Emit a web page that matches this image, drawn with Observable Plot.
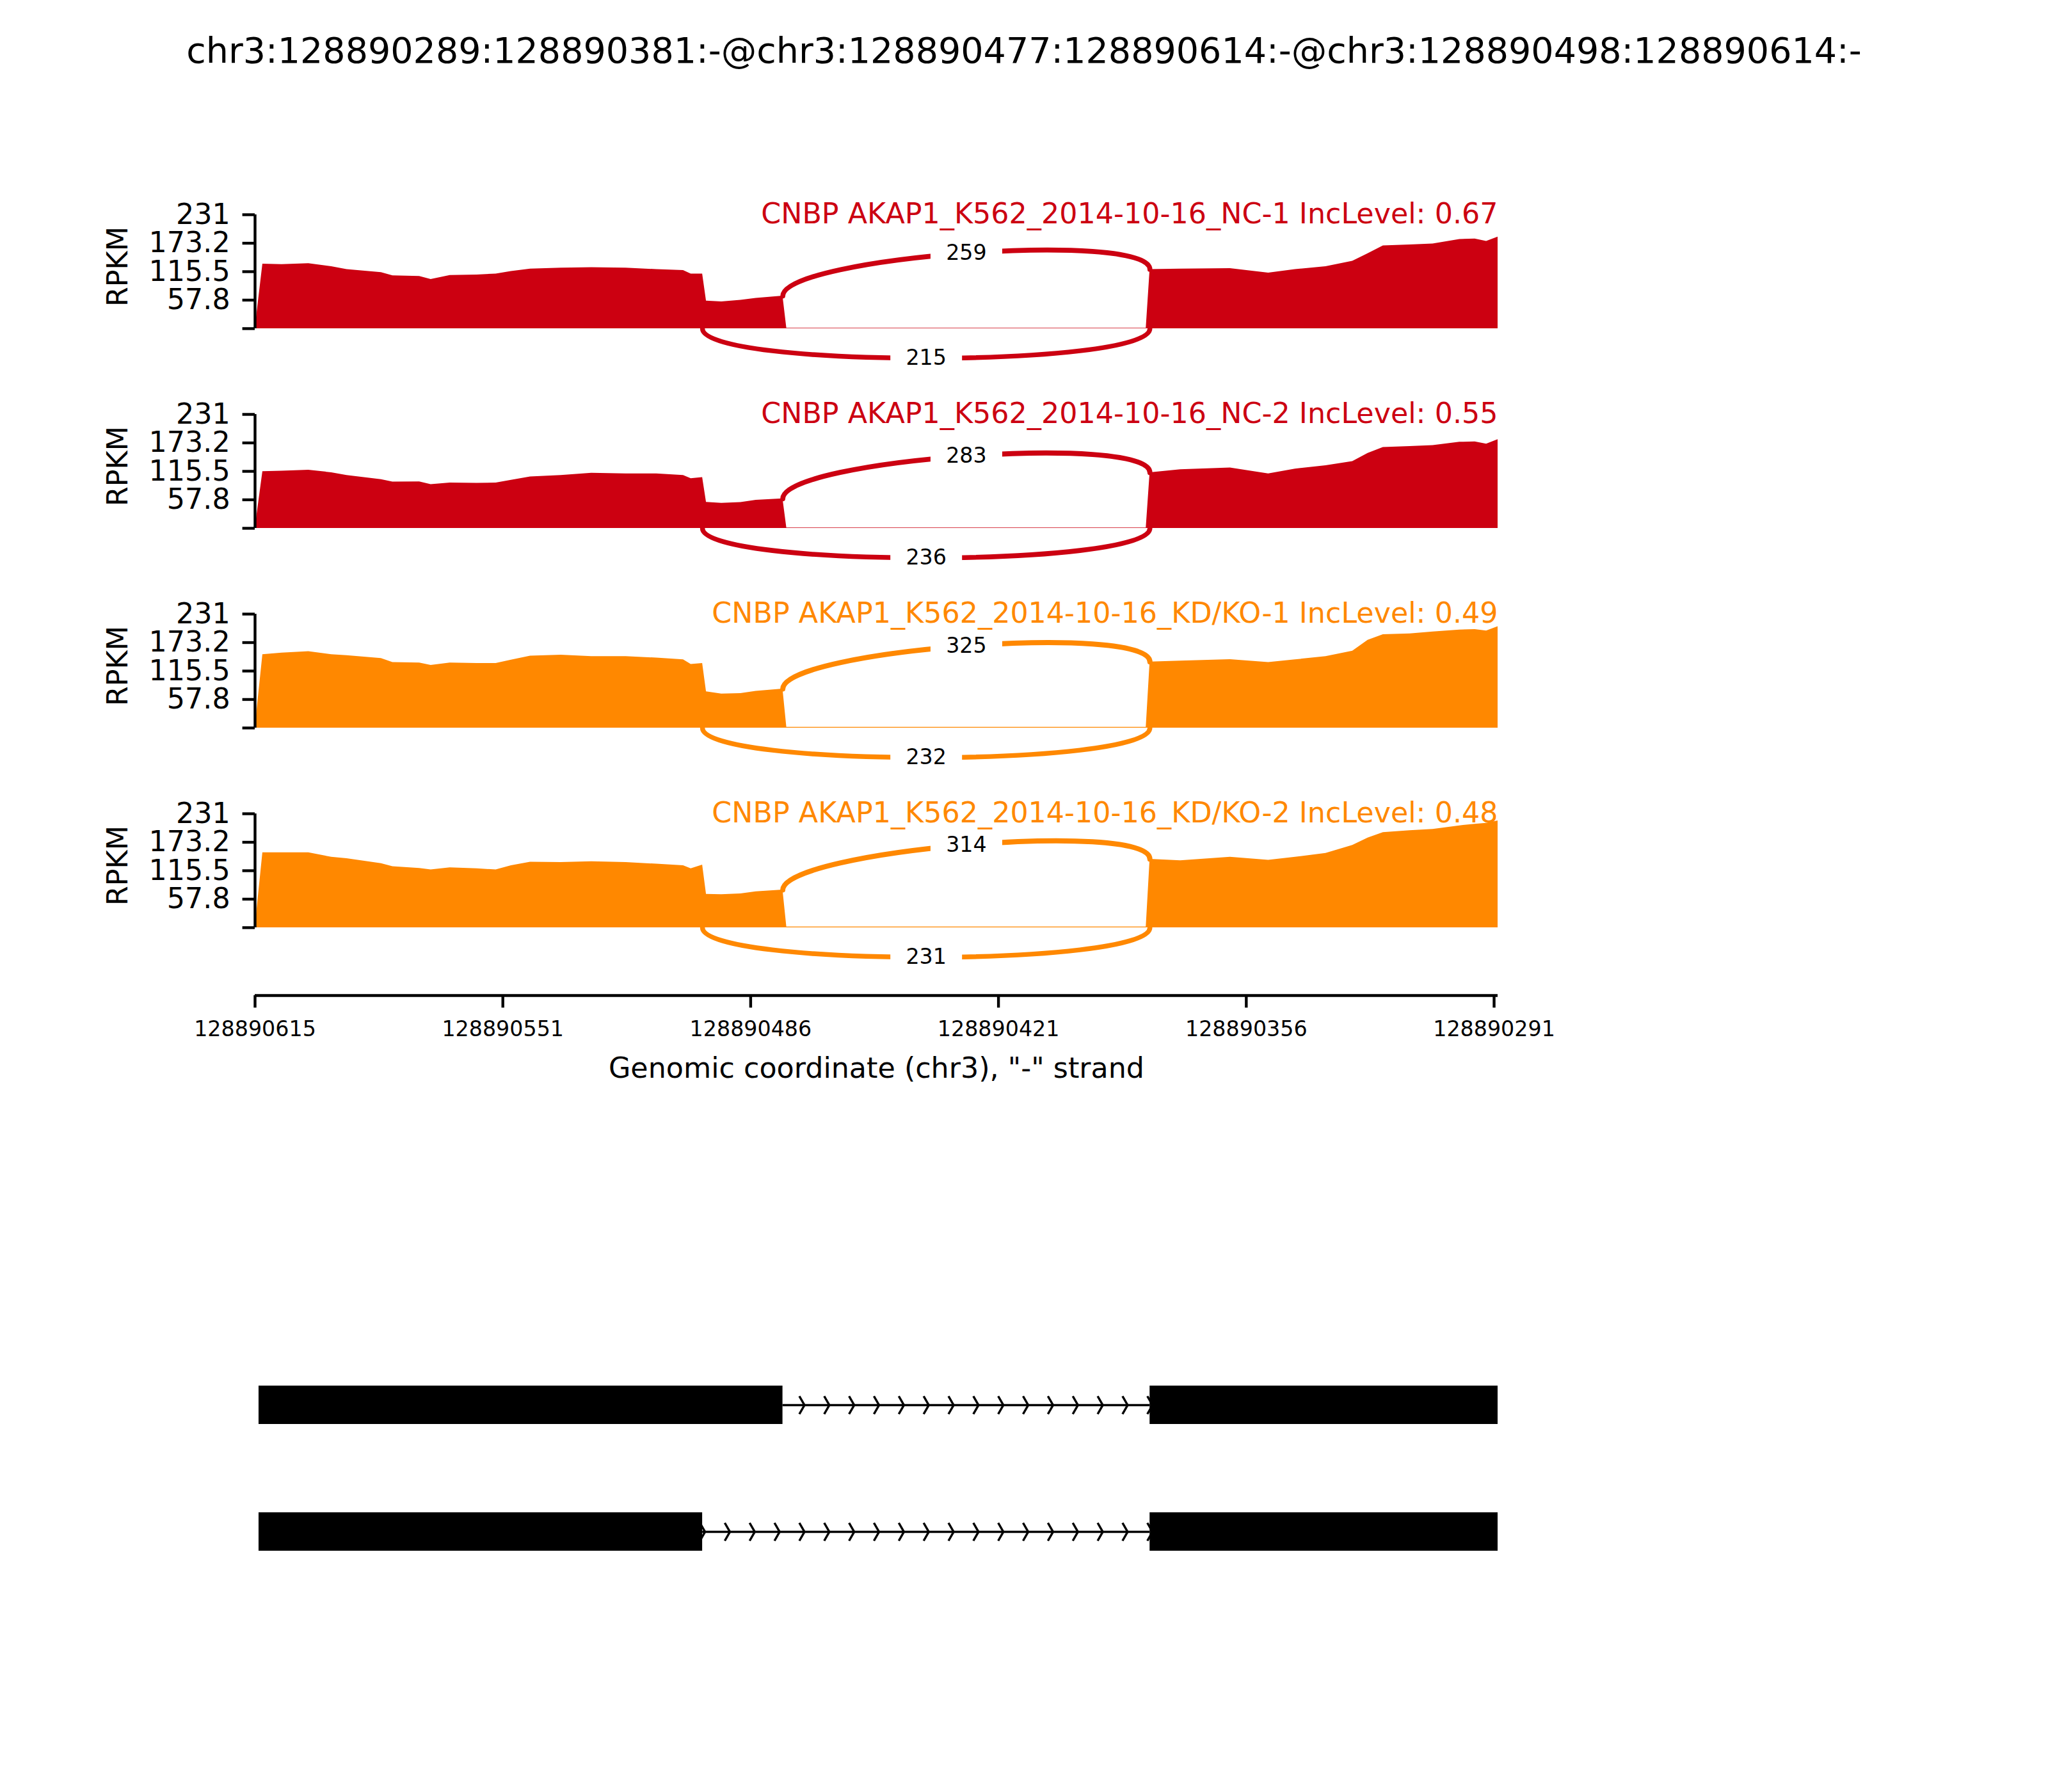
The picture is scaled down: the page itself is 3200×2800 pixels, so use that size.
<!DOCTYPE html>
<html>
<head>
<meta charset="utf-8">
<script src="https://cdn.jsdelivr.net/npm/d3@7"></script>
<script src="https://cdn.jsdelivr.net/npm/@observablehq/plot@0.6"></script>
<style>
  body { margin: 0; background: #fff; }
  #fig { position: relative; width: 3200px; height: 2800px; background: #fff; font-family: "DejaVu Sans", sans-serif; }
  #title { position: absolute; left: 0; top: 51px; width: 3200px; text-align: center; font-size: 55.5px; line-height: 55.5px; white-space: nowrap; color: #000; }
  .panel { position: absolute; left: 0; }
</style>
</head>
<body>
<div id="fig"><div id="title"></div></div>
<script>
// ---------------- data ----------------
const titleText = "chr3:128890289:128890381:-@chr3:128890477:128890614:-@chr3:128890498:128890614:-";

const sampleNames = [
  "CNBP AKAP1_K562_2014-10-16_NC-1",
  "CNBP AKAP1_K562_2014-10-16_NC-2",
  "CNBP AKAP1_K562_2014-10-16_KD/KO-1",
  "CNBP AKAP1_K562_2014-10-16_KD/KO-2"
];
const incLevels = ["0.67", "0.55", "0.49", "0.48"];
const sampleColors = ["#CC0011", "#CC0011", "#FF8800", "#FF8800"];

// coverage sample positions (genomic, chr3, "-" strand)
const coveragePositions = [
  128890615, 128890613, 128890608, 128890601, 128890595, 128890591, 128890582, 128890579, 128890572, 128890569,
  128890564, 128890557, 128890552, 128890548, 128890543, 128890535, 128890527, 128890518, 128890510, 128890503,
  128890501, 128890498, 128890497, 128890493, 128890488, 128890484, 128890477, 128890476, 128890382, 128890381,
  128890373, 128890360, 128890350, 128890343, 128890335, 128890328, 128890324, 128890320, 128890313, 128890307,
  128890300, 128890296, 128890293, 128890290
];
const coverageNC1 = [
  0, 131, 130, 132, 126, 120, 114, 107.5, 106, 100,
  108, 109, 111, 116, 121, 123, 124, 123, 120, 118,
  111, 111, 56, 54.6, 57.6, 61.5, 66, 1, 1, 120,
  121, 122, 113, 120, 126, 137, 152, 168, 170, 172,
  181, 182, 177, 186
];
const coverageNC2 = [
  0, 115, 116, 118, 113, 107.5, 99, 94, 94.5, 89,
  92, 91.5, 92, 97.5, 104.5, 107.5, 112, 110.5, 110.5, 107.5,
  101, 103, 53, 51, 52.5, 57, 60, 1, 1, 113,
  119, 122.7, 110.5, 120.5, 127, 135.7, 152, 164, 166, 168,
  174.7, 175.5, 171, 180
];
const coverageKD1 = [
  0, 149, 152, 155, 149, 147, 141, 133, 132, 127,
  132, 131, 131, 138, 146, 148, 145, 145, 142, 138.5,
  129, 131, 73.6, 69, 70, 74.5, 79, 1.5, 1.5, 134,
  136, 139, 133, 138.5, 145, 156, 178, 189.6, 191, 195,
  199, 200, 197, 205.6
];
const coverageKD2 = [
  0, 152, 152, 152, 143, 140, 130, 124, 120.5, 117.4,
  121.8, 119.6, 117.4, 126, 133, 132.5, 134, 132.5, 129, 126,
  119.6, 127, 67.8, 67, 68.7, 73, 76.4, 1.5, 1.5, 139,
  136, 143, 137, 143, 150.7, 167, 182, 193, 197, 199.5,
  206.8, 210, 212, 216.7
];
const coverages = [coverageNC1, coverageNC2, coverageKD1, coverageKD2];

// junctions: upper arc 477 -> 381, lower arc 498 -> 381
const junctionStarts = [128890477, 128890498];
const junctionEnds = [128890381, 128890381];
const upperCounts = [259, 283, 325, 314];
const lowerCounts = [215, 236, 232, 231];

const yMax = 231;
const yTicks = [0, 57.8, 115.5, 173.2, 231];
const yTickLabels = ["", "57.8", "115.5", "173.2", "231"];

const xTickLabels = ["128890615", "128890551", "128890486", "128890421", "128890356", "128890291"];
const xLabel = 'Genomic coordinate (chr3), "-" strand';

// isoforms
const isoformNames = ["isoform1", "isoform2"];
const isoformExonStarts = [[128890614, 128890381], [128890614, 128890381]];
const isoformExonEnds = [[128890477, 128890289], [128890498, 128890289]];

// ---------------- layout / style ----------------
const W = 3200;
const mL = 398, mR = 860;
const xDomain = [128890615, 128890290];
const trackTop0 = 335, trackStep = 312, trackMarginTop = 60, trackInner = 255, trackMarginBottom = 10;
const yDomain = [-100, yMax];
const arcH = 80;
const font = "DejaVu Sans";

document.getElementById("title").textContent = titleText;
const fig = document.getElementById("fig");

function place(el, top) {
  const wrap = document.createElement("div");
  wrap.className = "panel";
  wrap.style.top = top + "px";
  wrap.appendChild(el);
  fig.appendChild(wrap);
}

// cubic bezier curve (4 control points)
function curveBezier(context) {
  let pts = [];
  return {
    areaStart() {}, areaEnd() {},
    lineStart() { pts = []; },
    point(x, y) { pts.push([x, y]); },
    lineEnd() {
      if (pts.length === 4) {
        context.moveTo(pts[0][0], pts[0][1]);
        context.bezierCurveTo(pts[1][0], pts[1][1], pts[2][0], pts[2][1], pts[3][0], pts[3][1]);
      }
    }
  };
}
const boxSymbol = { draw(ctx) { ctx.rect(-56, -22, 112, 44); } };
const chevronSymbol = { draw(ctx) { ctx.moveTo(-4, -14); ctx.lineTo(4, 0); ctx.lineTo(-4, 14); } };

const maxCount = d3.max([...upperCounts, ...lowerCounts]);
const arcWidth = c => 8 * Math.log(c + 1) / Math.log(maxCount + 1);
const bezMid = p => [
  (p[0][0] + 3 * p[1][0] + 3 * p[2][0] + p[3][0]) / 8,
  (p[0][1] + 3 * p[1][1] + 3 * p[2][1] + p[3][1]) / 8
];

sampleNames.forEach((name, i) => {
  const color = sampleColors[i];
  const cov = coveragePositions.map((p, j) => ({pos: p, v: coverages[i][j]}));
  const valAt = p => cov.find(d => d.pos === p).v;
  const [a1, b1] = junctionStarts;
  const [a2, b2] = junctionEnds;
  const arcs = [
    {count: upperCounts[i], pts: [[a1, valAt(a1)], [a1, valAt(a1) + arcH], [a2, valAt(a2) + arcH], [a2, valAt(a2)]]},
    {count: lowerCounts[i], pts: [[b1, 0], [b1, -arcH], [b2, -arcH], [b2, 0]]}
  ];
  arcs.forEach(a => { a.mid = bezMid(a.pts); });

  const chart = Plot.plot({
    width: W,
    height: trackMarginTop + trackInner + trackMarginBottom,
    marginTop: trackMarginTop, marginBottom: trackMarginBottom,
    marginLeft: mL, marginRight: mR,
    x: {domain: xDomain, axis: null},
    y: {domain: yDomain},
    style: {fontFamily: font, background: "transparent", overflow: "visible"},
    marks: [
      Plot.areaY(cov, {x: "pos", y: "v", fill: color, curve: "linear"}),
      ...arcs.map(a => Plot.line(a.pts, {x: d => d[0], y: d => d[1], stroke: color, strokeWidth: arcWidth(a.count), curve: curveBezier})),
      Plot.dot(arcs, {x: a => a.mid[0], y: a => a.mid[1], symbol: boxSymbol, fill: "white", stroke: "none", r: 5}),
      Plot.text(arcs, {x: a => a.mid[0], y: a => a.mid[1], text: a => String(a.count), fontSize: 33.3, fill: "black"}),
      Plot.ruleX([xDomain[0]], {y1: () => 0, y2: () => yMax, strokeWidth: 4.4, stroke: "black"}),
      Plot.axisY({ticks: yTicks, tickFormat: d => yTickLabels[yTicks.indexOf(d)], tickSize: 19.4, tickPadding: 19.4,
        fontSize: 44.4, strokeWidth: 4.4, stroke: "black", fill: "black", label: null}),
      Plot.text([`${name} IncLevel: ${incLevels[i]}`], {x: () => xDomain[1], y: () => yMax, textAnchor: "end",
        lineAnchor: "bottom", dy: 13, fill: color, fontSize: 44.4}),
      Plot.text(["RPKM"], {frameAnchor: "left", textAnchor: "middle", lineAnchor: "middle", y: () => yMax * 0.545,
        dx: -214, rotate: -90, fontSize: 44.4, fill: "black"})
    ]
  });
  place(chart, trackTop0 + trackStep * i - trackMarginTop);
});

// ---------------- x axis ----------------
const xFirst = +xTickLabels[0], xLast = +xTickLabels[xTickLabels.length - 1];
const xTickPos = xTickLabels.map((_, k) => xFirst + (xLast - xFirst) * k / (xTickLabels.length - 1));
const axisChart = Plot.plot({
  width: W, height: 200, marginTop: 10, marginBottom: 170, marginLeft: mL, marginRight: mR,
  x: {domain: xDomain},
  y: {domain: [0, 1], axis: null},
  style: {fontFamily: font, background: "transparent", overflow: "visible"},
  marks: [
    Plot.ruleY([0], {strokeWidth: 4.4, stroke: "black"}),
    Plot.axisX({anchor: "bottom", ticks: xTickPos, tickFormat: d => xTickLabels[xTickPos.indexOf(d)],
      tickSize: 19.4, tickPadding: 20.6, fontSize: 33.3, strokeWidth: 4.4, stroke: "black", fill: "black", label: null}),
    Plot.text([xLabel], {frameAnchor: "bottom", dy: 128, lineAnchor: "bottom", fontSize: 44.4, fill: "black"})
  ]
});
place(axisChart, 1555 - 30);

// ---------------- gene models ----------------
const exons = [], introns = [], chevrons = [];
const chevronStep = 6.5;
const chevronAnchor = d3.max(isoformExonEnds, e => e[0]);
isoformNames.forEach((iso, k) => {
  const starts = isoformExonStarts[k], ends = isoformExonEnds[k];
  starts.forEach((s, j) => exons.push({iso, x1: s, x2: ends[j]}));
  for (let j = 0; j < starts.length - 1; j++) {
    const iStart = ends[j], iEnd = starts[j + 1];
    introns.push({iso, x1: iStart, x2: iEnd});
    for (let p = chevronAnchor; p > iEnd - 1; p -= chevronStep) {
      if (p <= iStart) chevrons.push({iso, x: p});
    }
  }
});
const geneChart = Plot.plot({
  width: W, height: 600, marginLeft: mL, marginRight: mR,
  x: {domain: xDomain, axis: null},
  y: {type: "band", domain: isoformNames, range: [25, 562], padding: 0.6985, axis: null},
  style: {fontFamily: font, background: "transparent", overflow: "visible"},
  marks: [
    Plot.ruleY(introns, {y: "iso", x1: "x1", x2: "x2", stroke: "black", strokeWidth: 3.5}),
    Plot.dot(chevrons, {x: "x", y: "iso", symbol: chevronSymbol, stroke: "black", fill: "none", strokeWidth: 3.5, r: 5}),
    Plot.barX(exons, {x1: "x1", x2: "x2", y: "iso", fill: "black", clip: true})
  ]
});
place(geneChart, 2000);
</script>
</body>
</html>
